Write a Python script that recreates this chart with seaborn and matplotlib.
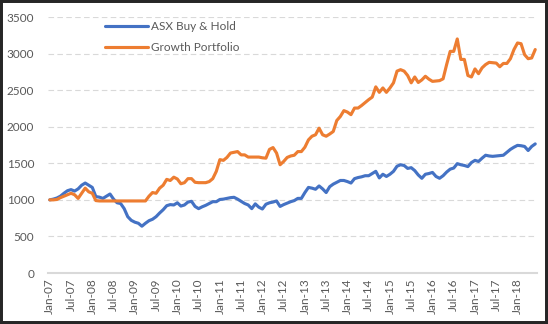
import numpy as np
import pandas as pd
import matplotlib
matplotlib.use("Agg")
import matplotlib.pyplot as plt
from matplotlib.patches import Rectangle
import seaborn as sns

# ---- data (monthly, Jan-07 .. Jun-18) ----
months = pd.date_range("2007-01-01", "2018-06-01", freq="MS")
series_names = ["ASX Buy & Hold", "Growth Portfolio"]

asx_buy_hold = [
    1000, 1010, 1025, 1050, 1090, 1125, 1140, 1120, 1150, 1200, 1230, 1200,
    1170, 1045, 1037, 1020, 1050, 1080, 1010, 960, 950, 880, 770, 720,
    695, 680, 640, 680, 715, 735, 770, 820, 865, 920, 935, 930,
    960, 915, 930, 970, 980, 910, 880, 905, 925, 950, 975, 975,
    1005, 1010, 1020, 1030, 1035, 1010, 980, 950, 930, 880, 945, 900,
    875, 940, 960, 970, 985, 910, 935, 955, 975, 990, 1020, 1020,
    1100, 1170, 1160, 1145, 1190, 1150, 1100, 1180, 1215, 1240, 1265, 1265,
    1250, 1230, 1290, 1305, 1315, 1330, 1330, 1360, 1390, 1300, 1350, 1320,
    1350, 1390, 1460, 1480, 1470, 1430, 1440, 1400, 1340, 1295, 1350, 1360,
    1375, 1320, 1295, 1330, 1380, 1420, 1435, 1495, 1480, 1470, 1455, 1510,
    1540, 1525, 1570, 1610, 1600, 1595, 1600, 1605, 1610, 1650, 1690, 1720,
    1745, 1740, 1730, 1675, 1730, 1765,
]

growth_portfolio = [
    1000, 1000, 1005, 1030, 1050, 1070, 1090, 1070, 1020, 1090, 1160, 1110,
    1090, 990, 985, 985, 985, 985, 985, 985, 985, 985, 985, 985,
    985, 985, 985, 985, 1050, 1100, 1090, 1160, 1200, 1280, 1265, 1310,
    1285, 1220, 1235, 1290, 1290, 1240, 1235, 1235, 1235, 1250, 1290, 1390,
    1550, 1540, 1580, 1640, 1650, 1660, 1615, 1615, 1585, 1585, 1585, 1585,
    1575, 1570, 1690, 1715, 1640, 1480, 1525, 1580, 1600, 1610, 1660, 1660,
    1720, 1820, 1870, 1890, 1980, 1890, 1870, 1900, 1935, 2085, 2140, 2220,
    2200, 2165, 2255, 2255, 2290, 2330, 2370, 2405, 2545, 2470, 2530, 2470,
    2530, 2600, 2760, 2780, 2760, 2700, 2600, 2680, 2605, 2640, 2690, 2650,
    2620, 2625, 2630, 2655, 2850, 3030, 3030, 3200, 2920, 2920, 2700, 2680,
    2790, 2725, 2805, 2850, 2880, 2875, 2870, 2820, 2865, 2865, 2930, 3055,
    3145, 3135, 2985, 2930, 2940, 3055,
]

y_ticks = [0, 500, 1000, 1500, 2000, 2500, 3000, 3500]
x_tick_labels = [m.strftime("%b-%y") for m in months[::6]]

colors = ["#4472C4", "#ED7D31"]
text_color = "#595959"
grid_color = "#D9D9D9"

# ---- build frame ----
idx = np.arange(len(months))
df = pd.DataFrame({
    "idx": np.concatenate([idx, idx]),
    "value": asx_buy_hold + growth_portfolio,
    "series": [series_names[0]] * len(idx) + [series_names[1]] * len(idx),
})

sns.set_theme(style="white")
plt.rcParams["font.family"] = ["Lato", "DejaVu Sans"]

fig = plt.figure(figsize=(5.48, 3.24), dpi=100)
fig.patch.set_facecolor("white")
ax = fig.add_axes([48 / 548, 1 - 273 / 324, (537 - 48) / 548, (273 - 17) / 324])

sns.lineplot(data=df, x="idx", y="value", hue="series", hue_order=series_names,
             palette=colors, linewidth=2.25, ax=ax, legend=True)

ax.set_xlim(-0.5, len(months) - 0.5)
ax.set_ylim(0, 3500)
ax.set_yticks(y_ticks)
ax.set_yticklabels([str(v) for v in y_ticks])
ax.set_xticks(idx[::6])
ax.set_xticklabels(x_tick_labels, rotation=90)
ax.set_xlabel("")
ax.set_ylabel("")

ax.tick_params(axis="both", length=0, labelsize=8.5, colors=text_color)
ax.tick_params(axis="y", pad=10)
ax.tick_params(axis="x", pad=4)

ax.yaxis.grid(True, color=grid_color, linestyle=(0, (5, 3)), linewidth=0.8)
ax.xaxis.grid(False)
ax.set_axisbelow(True)
for side in ["left", "right", "top"]:
    ax.spines[side].set_visible(False)
ax.spines["bottom"].set_color(grid_color)
ax.spines["bottom"].set_linewidth(1.5)

leg = ax.legend(loc="upper left", bbox_to_anchor=(0.1166, 0.985), frameon=False,
                fontsize=8.5, handlelength=3.6, handletextpad=0.3,
                labelspacing=0.85, borderpad=0, borderaxespad=0)
for t in leg.get_texts():
    t.set_color(text_color)
for h in leg.get_lines():
    h.set_linewidth(2.25)

fig.add_artist(Rectangle((0, 0), 1, 1, transform=fig.transFigure, fill=False,
                         edgecolor="#262626", linewidth=4.3))

fig.savefig("out.png", dpi=100, facecolor="white")
